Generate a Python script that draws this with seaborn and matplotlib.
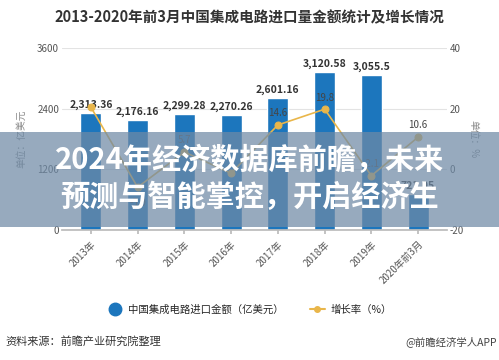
import matplotlib
matplotlib.use("Agg")
import matplotlib.pyplot as plt
import seaborn as sns
import pandas as pd
from matplotlib.patches import Rectangle
from matplotlib.lines import Line2D

years = ["2013年", "2014年", "2015年", "2016年", "2017年", "2018年", "2019年", "2020年前3月"]
import_value = [2313.36, 2176.16, 2299.28, 2270.26, 2601.16, 3120.58, 3055.5, 721.05]
growth = [20.5, -5.9, 5.7, -1.3, 14.6, 19.8, -2.1, 10.6]
# growth labels visible in the reference (2013 and 2016 are hidden there)
growth_label_shown = [False, True, True, False, True, True, True, True]
left_ticks = [0, 1200, 2400, 3600]
right_ticks = [-20, 0, 20, 40]

sns.set_theme(style="white")
plt.rcParams['font.family'] = ['Noto Sans CJK SC', 'DejaVu Sans']
plt.rcParams['axes.unicode_minus'] = False

df = pd.DataFrame({"year": years, "value": import_value, "growth": growth})
df["pos"] = range(len(df))

fig = plt.figure(figsize=(4.99, 3.6), dpi=100)
ax = fig.add_axes([0.124, 0.361, 0.772, 0.506])

bar_color = "#1c76bd"
line_color = "#e9b64a"

sns.barplot(data=df, x="year", y="value", color=bar_color, width=0.45,
            saturation=1, ax=ax, zorder=2)
ax.set_ylim(0, 3600)
ax.set_yticks(left_ticks)
ax.set_yticklabels([str(t) for t in left_ticks], fontsize=7, color="#555555")
ax.set_xlim(-0.62, len(years) - 1 + 0.62)
ax.set_xlabel("")
ax.set_ylabel("单位：亿美元", fontsize=7, color="#888888", labelpad=8)
ax.grid(axis="y", color="#e3e3e3", linewidth=0.8, zorder=0)
ax.set_axisbelow(True)
for s in ["top", "left", "right"]:
    ax.spines[s].set_visible(False)
ax.spines["bottom"].set_color("#bbbbbb")
ax.tick_params(axis="y", length=0, pad=2)
ax.tick_params(axis="x", length=3, color="#bbbbbb", bottom=True)
ax.set_xticks(range(len(years)))
ax.set_xticklabels(years, rotation=45, ha="right", rotation_mode="anchor",
                   fontsize=7, color="#555555")

for i, v in enumerate(import_value):
    ax.text(i, v + 60, f"{v:,}", ha="center", va="bottom", fontsize=7.5,
            fontweight="bold", color="#333333", zorder=5)

ax2 = ax.twinx()
sns.lineplot(data=df, x="pos", y="growth", color=line_color, linewidth=1.2,
             marker="o", markersize=5, markeredgecolor=line_color, ax=ax2, zorder=3)
ax2.set_ylim(-20, 40)
ax2.set_yticks(right_ticks)
ax2.set_yticklabels([str(t) for t in right_ticks], fontsize=7, color="#555555")
ax2.set_xlim(-0.62, len(years) - 1 + 0.62)
ax2.set_ylabel("单位：%", fontsize=7, color="#888888", rotation=-90, labelpad=10)
ax2.set_xlabel("")
for s in ["top", "left", "right", "bottom"]:
    ax2.spines[s].set_visible(False)
ax2.tick_params(axis="y", length=0, pad=2)
ax2.grid(False)

for i, g in enumerate(growth):
    if not growth_label_shown[i]:
        continue
    off = -3.5 if i == 1 else 2.2
    va = "top" if off < 0 else "bottom"
    ax2.text(i, g + off, f"{g}", ha="center", va=va, fontsize=7,
             color="#444444", zorder=5)

# legend
handles = [
    Line2D([0], [0], marker="o", color="none", markerfacecolor=bar_color,
           markeredgecolor=bar_color, markersize=9),
    Line2D([0], [0], marker="o", color=line_color, markerfacecolor=line_color,
           markeredgecolor=line_color, markersize=4, linewidth=1.5),
]
fig.legend(handles, ["中国集成电路进口金额（亿美元）", "增长率（%）"],
           loc="center", bbox_to_anchor=(0.5, 0.14), ncol=2, frameon=False,
           fontsize=7.5, handlelength=1.5, columnspacing=2.5, handletextpad=0.5)

fig.text(0.5, 0.953, "2013-2020年前3月中国集成电路进口量金额统计及增长情况",
         ha="center", va="center", fontsize=10.5, fontweight="bold", color="#333333")
fig.text(0.01, 0.052, "资料来源：前瞻产业研究院整理", ha="left", va="center",
         fontsize=8, color="#333333")
fig.text(0.995, 0.052, "@前瞻经济学人APP", ha="right", va="center",
         fontsize=7.5, color="#444444")

# overlay banner
band = Rectangle((0, 0.369), 1, 0.264, transform=fig.transFigure,
                 facecolor="#6f8aa6", alpha=0.72, edgecolor="none", zorder=10)
fig.patches.append(band)
fig.text(0.5, 0.556, "2024年经济数据库前瞻，未来", ha="center", va="center",
         fontsize=21, fontweight="bold", color="white", zorder=11)
fig.text(0.5, 0.452, "预测与智能掌控，开启经济生", ha="center", va="center",
         fontsize=21, fontweight="bold", color="white", zorder=11)

fig.savefig("out.png", dpi=100)
